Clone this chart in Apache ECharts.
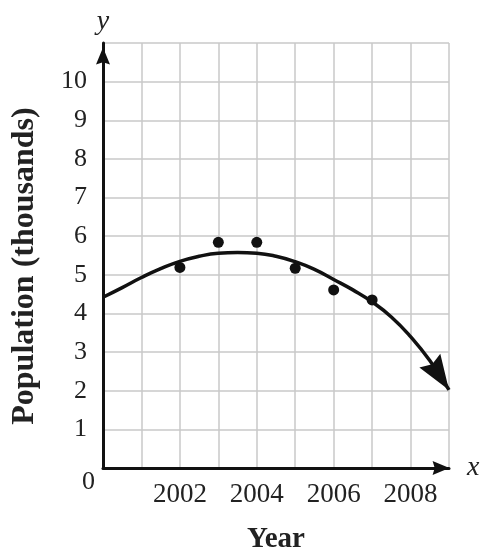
<!DOCTYPE html>
<html>
<head>
<meta charset="utf-8">
<script src="https://cdn.jsdelivr.net/npm/echarts@6/dist/echarts.min.js"></script>
<style>
  html, body { margin: 0; padding: 0; background: #fff; }
  #chart { width: 481px; height: 550px; }
</style>
</head>
<body>
<div id="chart"></div>
<script>
// observed data points
const years = [2002, 2003, 2004, 2005, 2006, 2007]
const population = [5.19, 5.84, 5.84, 5.17, 4.61, 4.35]

// fitted curve, every half year
const curveYears = [2000, 2000.5, 2001, 2001.5, 2002, 2002.5, 2003, 2003.5, 2004, 2004.5,
  2005, 2005.5, 2006, 2006.5, 2007, 2007.5, 2008, 2008.5, 2009]
const curveValues = [4.42, 4.67, 4.93, 5.16, 5.35, 5.48, 5.56, 5.58, 5.56, 5.48,
  5.34, 5.14, 4.88, 4.61, 4.30, 3.91, 3.40, 2.78, 2.02]

const xLabels = [2002, 2004, 2006, 2008]

const font = 'Liberation Serif'
const ink = '#111'
// triangle head, tip at the top
const head = 'path://M10,0 L20,24 L10,21 L0,24 Z'
// same head with an empty point above it, so the tip sits on the symbol centre
const tipHead = 'path://M10,0 L20,24 L10,21 L0,24 Z M10,-24 L10,-24 Z'

const chart = echarts.init(document.getElementById('chart'))

const n = curveYears.length
const option = {
  animation: false,
  backgroundColor: '#fff',
  grid: [
    { left: 103, right: 32, top: 43, bottom: 82, containLabel: false, outerBoundsMode: 'none' },
    { left: 103, right: 32, top: 64, bottom: 82, containLabel: false, outerBoundsMode: 'none' }
  ],
  xAxis: [
    {
      type: 'value',
      min: 2000,
      max: 2009,
      interval: 1,
      name: 'x',
      nameLocation: 'end',
      nameGap: 18,
      nameTextStyle: { fontFamily: font, fontStyle: 'italic', fontSize: 28, color: '#222' },
      axisLine: {
        onZero: false,
        symbol: ['none', head],
        symbolSize: [14, 24],
        symbolOffset: [0, -8],
        lineStyle: { color: ink, width: 3 }
      },
      axisTick: { show: false },
      axisLabel: {
        margin: 13,
        fontFamily: font,
        fontSize: 27,
        color: '#222',
        formatter: v => xLabels.includes(v) ? String(v) : ''
      },
      splitLine: { show: true, lineStyle: { color: '#c8c8c8', width: 1.5 } }
    },
    {
      gridIndex: 1,
      type: 'value',
      min: 2000,
      max: 2009,
      name: 'Year',
      nameLocation: 'middle',
      nameGap: 57,
      nameTextStyle: { fontFamily: font, fontWeight: 'bold', fontSize: 29, color: '#222' },
      axisLine: { show: false },
      axisTick: { show: false },
      axisLabel: { show: false },
      splitLine: { show: false }
    }
  ],
  yAxis: [
    {
      type: 'value',
      min: 0,
      max: 11,
      interval: 1,
      name: 'y',
      nameLocation: 'end',
      nameGap: 7,
      nameTextStyle: { fontFamily: font, fontStyle: 'italic', fontSize: 28, color: '#222' },
      axisLine: {
        onZero: false,
        symbol: ['none', head],
        symbolSize: [14, 22],
        symbolOffset: [0, -13],
        lineStyle: { color: ink, width: 3 }
      },
      axisTick: { show: false },
      axisLabel: {
        margin: 8,
        fontFamily: font,
        fontSize: 26,
        color: '#222',
        formatter: v => v === 11 ? '' : (v === 0 ? '{z|0}' : '{n|' + v + '}'),
        rich: {
          n: { fontFamily: font, fontSize: 26, color: '#222', padding: [0, 8, 0, 0] },
          z: { fontFamily: font, fontSize: 26, color: '#222', padding: [28, 0, 0, 0] }
        }
      },
      splitLine: { show: true, lineStyle: { color: '#c8c8c8', width: 1.5 } }
    },
    {
      gridIndex: 1,
      type: 'value',
      min: 0,
      max: 10,
      name: 'Population (thousands)',
      nameLocation: 'middle',
      nameRotate: 90,
      nameGap: 62,
      nameTextStyle: { fontFamily: font, fontWeight: 'bold', fontSize: 32, color: '#222' },
      axisLine: { show: false },
      axisTick: { show: false },
      axisLabel: { show: false },
      splitLine: { show: false }
    }
  ],
  series: [
    {
      type: 'line',
      data: curveYears.map((x, i) => [x, curveValues[i]]),
      smooth: 0.5,
      showSymbol: false,
      lineStyle: { color: ink, width: 3.5 },
      z: 3,
      markLine: {
        silent: true,
        symbol: ['none', tipHead],
        symbolSize: [25, 70],
        label: { show: false },
        lineStyle: { color: ink, width: 0, type: 'solid' },
        data: [[
          { coord: [curveYears[n - 2], curveValues[n - 2]] },
          { coord: [curveYears[n - 1], curveValues[n - 1]] }
        ]]
      }
    },
    {
      type: 'scatter',
      data: years.map((x, i) => [x, population[i]]),
      symbolSize: 11,
      itemStyle: { color: ink, opacity: 1 },
      z: 4
    }
  ]
}

chart.setOption(option)
</script>
</body>
</html>
